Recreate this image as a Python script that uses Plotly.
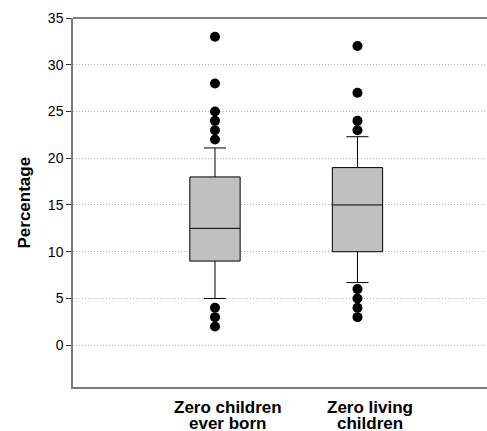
import plotly.graph_objects as go

# ---- data ----
categories = ["Zero children ever born", "Zero living children"]
label_line1 = ["Zero children", "Zero living"]
label_line2 = ["ever born", "children"]
q1 = [9.0, 10.0]
median = [12.5, 15.0]
q3 = [18.0, 19.0]
lower_whisker = [5.0, 6.7]
upper_whisker = [21.1, 22.3]
outliers = [
    [33, 28, 25, 24, 23, 22, 4, 3, 2],
    [32, 27, 24, 23, 6, 5, 4, 3],
]
y_ticks = [0, 5, 10, 15, 20, 25, 30, 35]

fig = go.Figure()

for i, name in enumerate(categories):
    fig.add_trace(go.Box(
        x=[i], q1=[q1[i]], median=[median[i]], q3=[q3[i]],
        lowerfence=[lower_whisker[i]], upperfence=[upper_whisker[i]],
        name=name, width=0.353, whiskerwidth=0.44,
        fillcolor="#c0c0c0", line=dict(color="black", width=1),
        boxpoints=False, showlegend=False,
    ))
    fig.add_trace(go.Scatter(
        x=[i] * len(outliers[i]), y=outliers[i], mode="markers",
        marker=dict(color="black", size=10, line=dict(width=0)),
        showlegend=False, hoverinfo="y",
    ))

label_offset = 0.09
for i in range(len(categories)):
    fig.add_annotation(x=i + label_offset, xref="x", y=0, yref="paper",
                       text=label_line1[i], showarrow=False, xanchor="center",
                       yanchor="middle", yshift=-20.5,
                       font=dict(family="Liberation Sans, Arial", size=17, color="black", weight="bold"))
    fig.add_annotation(x=i + label_offset, xref="x", y=0, yref="paper",
                       text=label_line2[i], showarrow=False, xanchor="center",
                       yanchor="middle", yshift=-36.5,
                       font=dict(family="Liberation Sans, Arial", size=17, color="black", weight="bold"))

fig.add_annotation(x=0, xref="paper", y=0.5, yref="paper", text="Percentage",
                   textangle=-90, showarrow=False, xanchor="center", yanchor="middle",
                   xshift=-49,
                   font=dict(family="Liberation Sans, Arial", size=17, color="black", weight="bold"))

# top border line
fig.add_shape(type="line", xref="paper", yref="paper", x0=0, x1=1, y0=1, y1=1,
              line=dict(color="black", width=1))

fig.update_layout(
    width=487, height=431,
    margin=dict(l=73, r=0, t=18, b=44),
    paper_bgcolor="white", plot_bgcolor="white",
    font=dict(family="Liberation Sans, Arial", color="black"),
    xaxis=dict(range=[-0.9965, 1.909], showticklabels=False, ticks="",
               showgrid=False, zeroline=False, showline=True,
               linecolor="#7a7a7a", linewidth=1.5),
    yaxis=dict(range=[-4.47, 35], tickvals=y_ticks, ticks="outside", ticklen=5,
               tickcolor="#333333", tickwidth=1,
               tickfont=dict(size=14, color="black"),
               showgrid=True, gridcolor="#b4b4b4", griddash="1px,2px", gridwidth=1,
               zeroline=False, showline=True, linecolor="#7a7a7a", linewidth=1.5),
)

fig.write_html("out.html")
